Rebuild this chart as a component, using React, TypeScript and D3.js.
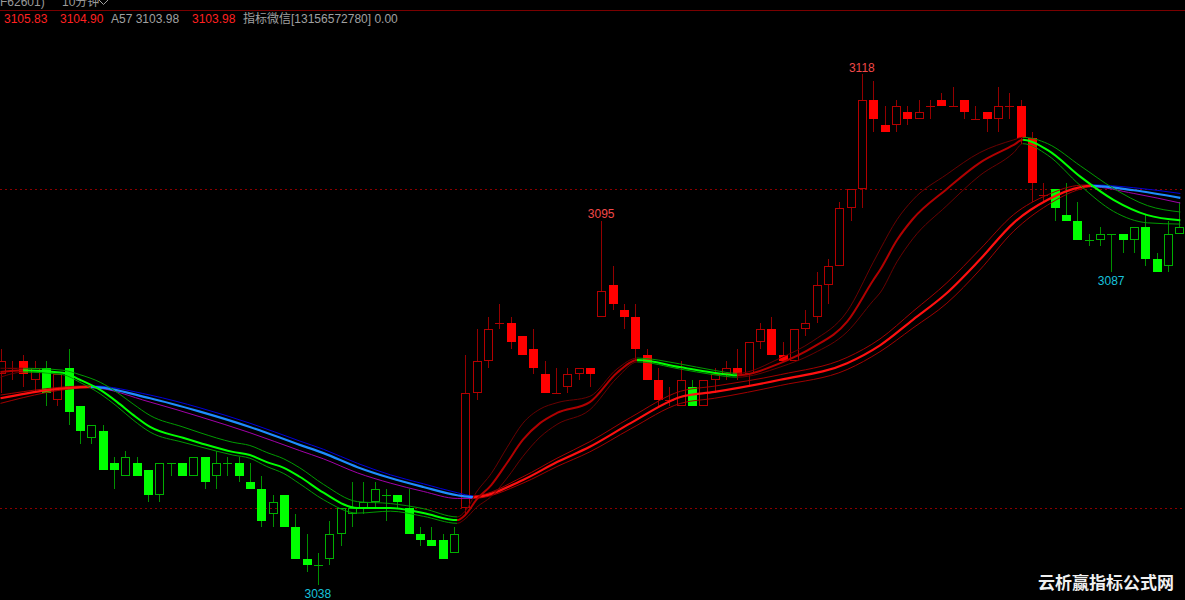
import React from "react";
import * as d3 from "d3";

const W = 1185;
const H = 600;

// ---- candle data (10-minute bars) ----
const opens = [
  3071,3072,3073,3070,3072,3067,3072,3066,3061,3062,
  3057,3055,3057,3056,3052,3057,3057,3055,3058,3055,
  3057,3057,3054,3053,3049,3052,3047,3042,3041,3042,
  3046,3049,3050,3051,3052,3052,3050,3046,3045,3045,
  3043,3050,3068,3073,3079,3079,3077,3075,3071,3068,
  3069,3071,3072,3080,3085,3081,3080,3074,3070,3067,
  3066,3069,3066,3070,3071,3072,3071,3076,3078,3074,
  3073,3078,3080,3085,3088,3097,3100,3114,3110,3110,
  3112,3111,3113,3114,3113,3114,3111,3112,3111,3113,
  3113,3108,3099,3100,3096,3095,3092,3092,3093,3093,
  3092,3094,3089,3088,3093,
];
const highs = [
  3075,3073,3074,3073,3073,3071,3075,3066,3063,3063,
  3058,3059,3058,3056,3057,3057,3057,3058,3058,3059,
  3058,3058,3057,3055,3052,3052,3049,3046,3043,3048,
  3050,3054,3054,3054,3053,3052,3053,3047,3047,3046,
  3047,3074,3078,3080,3082,3080,3077,3078,3073,3072,
  3072,3072,3072,3095,3088,3082,3082,3075,3072,3069,
  3073,3070,3070,3072,3073,3075,3076,3079,3080,3076,
  3078,3081,3087,3089,3098,3100,3118,3117,3113,3114,
  3113,3114,3114,3115,3116,3114,3113,3112,3116,3115,
  3114,3109,3101,3100,3101,3098,3093,3094,3093,3093,
  3094,3096,3090,3095,3098,
];
const lows = [
  3068,3070,3069,3068,3066,3066,3063,3060,3060,3056,
  3053,3055,3055,3051,3051,3055,3055,3055,3053,3053,
  3055,3054,3053,3047,3047,3047,3042,3040,3038,3041,
  3044,3047,3049,3050,3048,3050,3046,3044,3044,3042,
  3043,3049,3067,3072,3078,3075,3074,3071,3068,3068,
  3068,3070,3069,3080,3081,3078,3073,3070,3066,3066,
  3066,3066,3066,3068,3070,3070,3069,3075,3074,3073,
  3073,3077,3079,3082,3088,3095,3097,3109,3109,3109,
  3110,3111,3111,3113,3113,3111,3111,3109,3109,3111,
  3107,3098,3098,3095,3095,3092,3091,3091,3087,3090,
  3090,3088,3087,3087,3093,
];
const closes = [
  3073,3072,3071,3072,3068,3071,3065,3062,3063,3056,
  3056,3058,3055,3052,3057,3057,3055,3058,3054,3057,
  3057,3055,3053,3048,3051,3047,3042,3041,3041,3046,
  3050,3050,3051,3053,3052,3051,3046,3045,3044,3042,
  3046,3068,3073,3078,3079,3076,3074,3072,3068,3068,
  3071,3072,3071,3084,3082,3080,3075,3070,3067,3067,
  3070,3066,3070,3071,3072,3071,3076,3078,3074,3073,
  3078,3079,3085,3088,3097,3100,3114,3111,3109,3113,
  3111,3112,3113,3113,3113,3112,3111,3111,3113,3113,
  3108,3101,3099,3097,3095,3092,3092,3093,3093,3092,
  3094,3089,3087,3093,3094,
];
// r = red regime, g = green regime
const regime = (
  "rrrrgrgggg" + "gggggggggg" + "gggggggggg" + "gggggggggg" +
  "grrrrrrrrr" + "rrrrrrrrrr" + "rgrrrrrrrr" + "rrrrrrrrrr" +
  "rrrrrrrrrr" + "rrrggggggg" + "ggggg"
).split("");

// ---- indicator readings (bar index, value) ----
const shortIdx = [0,2,5.5,7,8.8,10.3,11.7,13.2,16.1,17.6,20.5,22,23.5,25,26.4,28.5,31.5,34.4,37.3,40.3,41,42,43.3,44.7,46.1,47.6,49.1,52,54.4,56.2,59.9,62.9,65,68.8,71.7,74.7,77,77.6,79.1,80.5,83.5,86.4,89.4,90.2,92.4,95.3,98.2,101.2,104.1];
const shortMid = [3071.3,3071.6,3071.2,3070.1,3068.5,3066.6,3064.6,3062.7,3061.0,3060.2,3058.8,3058.3,3057.2,3056.3,3054.9,3052.4,3050.0,3050.0,3049.2,3048.1,3048.9,3051.3,3053.6,3057.1,3060.7,3063.3,3064.9,3066.6,3071.2,3073.2,3072.1,3071.2,3070.8,3072.7,3075.2,3079.2,3085.7,3087.3,3092.0,3095.3,3100.0,3104.1,3106.9,3107.7,3106.1,3101.9,3098.3,3095.9,3095.1];
const shortUp = [0.6,0.3,0.4,0.8,1.2,1.5,1.7,1.8,1.7,1.6,1.5,1.5,1.5,1.4,1.4,1.3,1.0,0.7,0.7,0.5,0.6,1.2,1.8,2.4,2.6,2.2,1.6,0.9,0.6,0.3,0.5,0.4,0.3,0.8,1.0,1.6,2.8,3.2,3.2,3.0,2.3,1.6,0.8,0.4,1.0,1.7,1.8,1.5,1.3];
const shortDn = [0.8,0.3,0.3,0.4,0.6,0.7,0.8,0.8,0.7,0.6,0.5,0.5,0.7,0.9,1.1,1.1,0.8,0.5,0.5,0.5,0.6,1.2,1.8,2.4,2.6,2.2,1.8,1.2,0.8,0.3,0.3,0.3,0.3,0.6,1.0,1.6,3.2,3.6,3.4,3.1,2.6,2.0,1.2,0.6,0.8,1.4,1.8,1.2,0.6];
const shortTurns = [2, 40.3, 56.2, 65, 90.2];

const longIdx = [0,8,13.2,17.6,22,26.4,28.5,31.5,34.4,37.3,40.3,41.7,46.1,49.1,52,55.6,60,63,68.8,74.7,77.6,80.5,83.5,86.4,89.4,92.4,95.3,96.2,100,104.1];
const longMid = [3067.2,3069.0,3067.2,3065.1,3062.7,3059.9,3058.6,3056.4,3054.7,3053.3,3052.0,3051.7,3054.4,3057.2,3059.6,3063.3,3067.4,3068.2,3070.1,3072.7,3075.5,3079.5,3083.7,3088.9,3094.7,3098.3,3100.3,3100.5,3099.8,3098.6];
const longUp = [0.5,0.15,0.5,0.6,0.6,0.6,0.6,0.6,0.5,0.5,0.4,0.2,0.5,0.6,0.8,0.9,0.9,0.9,0.8,0.9,1.0,1.3,1.6,1.6,1.3,0.8,0.3,0.15,0.4,0.7];
const longDn = [0.8,0.15,0.6,0.8,0.9,0.9,0.9,0.9,0.8,0.7,0.5,0.2,0.5,0.7,0.8,0.9,1.0,1.0,0.9,1.0,1.0,1.3,1.6,1.6,1.3,0.8,0.3,0.15,0.5,0.8];
const longTurns = [8, 41.7, 96.2];

const gridLevels = [3100, 3050];
const highMarks = [53, 76];
const lowMarks = [28, 98];

const headerTop = [
  { text: "F62601)", x: 0, color: "#9a9a9a" },
  { text: "10分钟", x: 62, color: "#9a9a9a" },
];
const headerVals = [
  { text: "3105.83", x: 4, color: "#ff2020" },
  { text: "3104.90", x: 60, color: "#ff2020" },
  { text: "A57 3103.98", x: 111, color: "#a0a0a0" },
  { text: "3103.98", x: 192, color: "#ff2020" },
  { text: "指标微信[13156572780] 0.00", x: 243, color: "#a0a0a0" },
];

const FONT = "'Liberation Sans', Arial, 'Noto Sans CJK SC', sans-serif";

export default function App() {
  const xs = d3.scaleLinear().domain([0, 104]).range([0.5, 1179.2]);
  const ys = d3.scaleLinear().domain([3050, 3100]).range([508, 189]);

  const line = d3
    .line<[number, number]>()
    .x((d) => xs(d[0]))
    .y((d) => ys(d[1]))
    .curve(d3.curveMonotoneX);

  const mk = (idx: number[], mid: number[], off: number[] | null, sign: number) =>
    line(idx.map((t, k) => [t, mid[k] + (off ? sign * off[k] : 0)] as [number, number])) || "";

  const grad = (id: string, turns: number[], colors: string[]) => {
    const st: any[] = [];
    colors.forEach((c, k) => {
      const a = k === 0 ? 0 : xs(turns[k - 1]) / W;
      const b = k === colors.length - 1 ? 1 : xs(turns[k]) / W;
      st.push(<stop key={k + "a"} offset={a} stopColor={c} />);
      st.push(<stop key={k + "b"} offset={b} stopColor={c} />);
    });
    return (
      <linearGradient id={id} key={id} gradientUnits="userSpaceOnUse" x1={0} y1={0} x2={W} y2={0}>
        {st}
      </linearGradient>
    );
  };

  const sR = "#b00000", sRt = "#680000", sG = "#00ff00", sGt = "#009a00";
  const lR = "#ff1010", lRt = "#a00000";

  const candles = opens.map((o, i) => {
    const c = closes[i];
    const red = regime[i] === "r";
    const xc = Math.round(xs(i));
    const xw = xc + 0.5;
    const yT = Math.round(ys(Math.max(o, c)));
    const yB = Math.round(ys(Math.min(o, c)));
    const yH = Math.round(ys(highs[i]));
    const yL = Math.round(ys(lows[i]));
    const wick = red ? "#940000" : "#009000";
    const edge = red ? "#b40000" : "#00b000";
    if (c < o) {
      return (
        <g key={i}>
          <line x1={xw} x2={xw} y1={yH} y2={yL} stroke={wick} />
          <rect x={xc - 4} y={yT} width={9} height={Math.max(1, yB - yT)} fill={red ? "#ff0000" : "#00ff00"} />
        </g>
      );
    }
    if (c > o) {
      return (
        <g key={i}>
          {yH < yT && <line x1={xw} x2={xw} y1={yH} y2={yT} stroke={wick} />}
          {yL > yB && <line x1={xw} x2={xw} y1={yB} y2={yL} stroke={wick} />}
          <rect x={xc - 3.5} y={yT + 0.5} width={8} height={Math.max(1, yB - yT - 1)} fill="none" stroke={edge} />
        </g>
      );
    }
    return (
      <g key={i}>
        <line x1={xw} x2={xw} y1={yH} y2={yL} stroke={wick} />
        <line x1={xc - 4} x2={xc + 5} y1={yT + 0.5} y2={yT + 0.5} stroke={edge} />
      </g>
    );
  });

  return (
    <svg
      width={W}
      height={H}
      style={{ position: "absolute", left: 0, top: 0, display: "block" }}
    >
      <defs>
        {grad("gSM", shortTurns, [sR, sG, sR, sG, sR, sG])}
        {grad("gST", shortTurns, [sRt, sGt, sRt, sGt, sRt, sGt])}
        {grad("gLM", longTurns, [lR, "#1e8cff", lR, "#1e8cff"])}
        {grad("gLU", longTurns, [lRt, "#0000d8", lRt, "#0000d8"])}
        {grad("gLD", longTurns, [lRt, "#a000a8", lRt, "#a000a8"])}
      </defs>
      <rect x={0} y={0} width={W} height={H} fill="#000" />

      {/* header */}
      <g fontFamily={FONT} fontSize={12}>
        {headerTop.map((t) => (
          <text key={t.text} x={t.x} y={6} fill={t.color}>{t.text}</text>
        ))}
        <polyline points="99,0 103.5,4.5 108,0" fill="none" stroke="#a0a0a0" strokeWidth={1} />
        {headerVals.map((t) => (
          <text key={t.text + t.x} x={t.x} y={23} fill={t.color}>{t.text}</text>
        ))}
      </g>
      <line x1={0} x2={W} y1={10.5} y2={10.5} stroke="#7a0000" strokeWidth={1} />

      {/* dashed price levels */}
      {gridLevels.map((p) => (
        <line
          key={p}
          x1={0}
          x2={W}
          y1={Math.round(ys(p)) + 0.5}
          y2={Math.round(ys(p)) + 0.5}
          stroke="#8a0000"
          strokeDasharray="2,3"
          strokeWidth={1}
        />
      ))}

      <g>{candles}</g>

      {/* long bundle */}
      <path d={mk(longIdx, longMid, longUp, 1)} fill="none" stroke="url(#gLU)" strokeWidth={1} />
      <path d={mk(longIdx, longMid, longDn, -1)} fill="none" stroke="url(#gLD)" strokeWidth={1} />
      <path d={mk(longIdx, longMid, null, 0)} fill="none" stroke="url(#gLM)" strokeWidth={2.2} />

      {/* short bundle */}
      <path d={mk(shortIdx, shortMid, shortUp, 1)} fill="none" stroke="url(#gST)" strokeWidth={1} />
      <path d={mk(shortIdx, shortMid, shortDn, -1)} fill="none" stroke="url(#gST)" strokeWidth={1} />
      <path d={mk(shortIdx, shortMid, null, 0)} fill="none" stroke="url(#gSM)" strokeWidth={2} />

      {/* high / low marks */}
      <g fontFamily={FONT} fontSize={12} textAnchor="middle">
        {highMarks.map((i) => (
          <text key={"h" + i} x={xs(i)} y={ys(highs[i]) - 2.5} fill="#f04848">{highs[i]}</text>
        ))}
        {lowMarks.map((i) => (
          <text key={"l" + i} x={xs(i)} y={ys(lows[i]) + 13.5} fill="#18c0dc">{lows[i]}</text>
        ))}
      </g>

      {/* watermark */}
      <text
        x={1038}
        y={589}
        fontFamily="'Noto Sans CJK SC', sans-serif"
        fontWeight={700}
        fontSize={17}
        fill="#f0f0f0"
      >
        云析赢指标公式网
      </text>
    </svg>
  );
}
